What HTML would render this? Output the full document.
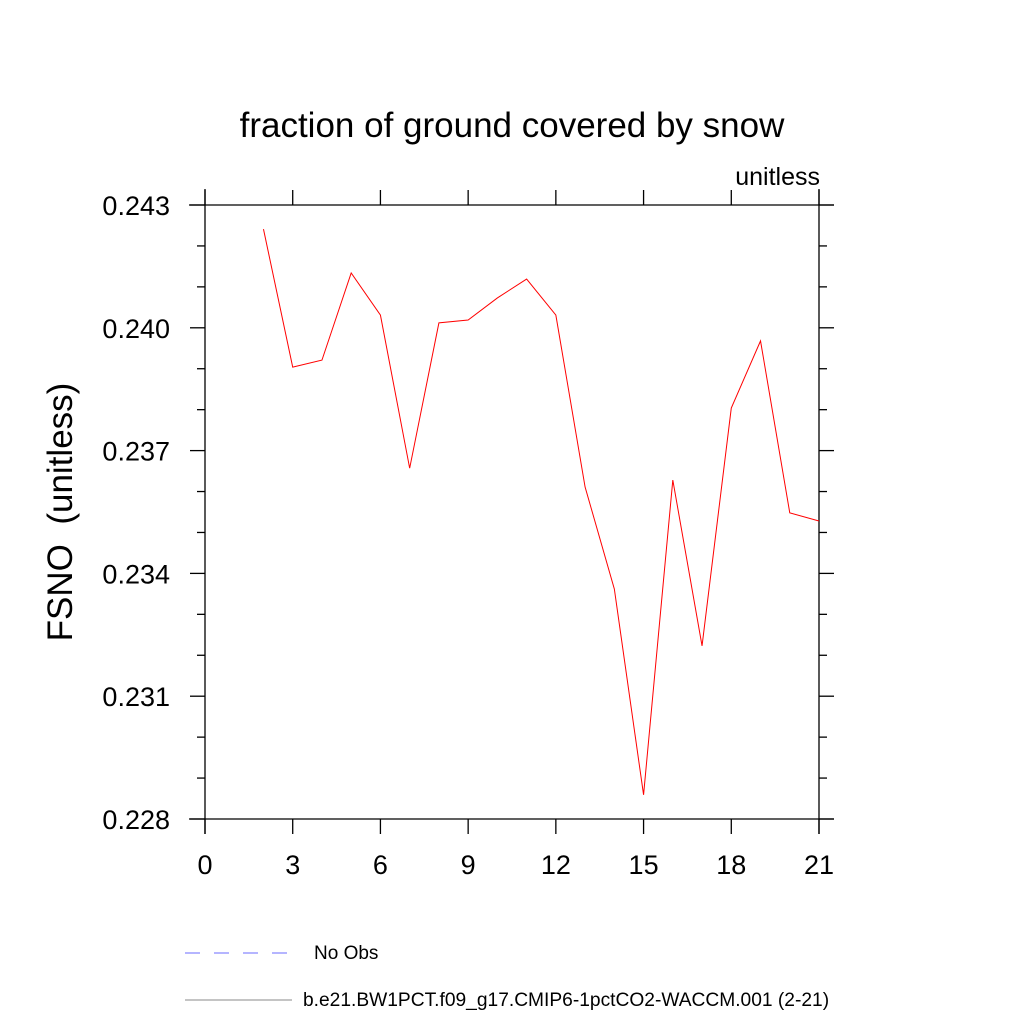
<!DOCTYPE html>
<html><head><meta charset="utf-8"><style>body{margin:0;background:#fff}svg text{font-family:"Liberation Sans",sans-serif}</style></head>
<body>
<svg id="chart" width="1024" height="1024" xmlns="http://www.w3.org/2000/svg">
<text x="512" y="137" font-size="35" text-anchor="middle">fraction of ground covered by snow</text>
<text x="820" y="185" font-size="25" text-anchor="end">unitless</text>
<text transform="translate(72,512) rotate(-90)" font-size="35" text-anchor="middle" style="white-space:pre">FSNO  (unitless)</text>
<g id="axes" stroke="#000" stroke-width="1.3"></g>
<g id="labels" font-size="27"></g>
<g id="series"></g>
<g>
<line x1="185" y1="953" x2="292" y2="953" stroke="#6b6bff" stroke-dasharray="15,14"/>
<text x="314" y="959" font-size="19">No Obs</text>
<line x1="185" y1="1000" x2="292" y2="1000" stroke="#888"/>
<text x="303" y="1006" font-size="19.2">b.e21.BW1PCT.f09_g17.CMIP6-1pctCO2-WACCM.001 (2-21)</text>
</g>
</svg>
<script>
const years=[2,3,4,5,6,7,8,9,10,11,12,13,14,15,16,17,18,19,20,21];
const fsno=[0.24241,0.23904,0.23921,0.24134,0.24031,0.23657,0.24012,0.24019,0.24073,0.24119,0.24031,0.23611,0.23362,0.22859,0.23628,0.23223,0.23804,0.23968,0.23548,0.23528];
const xTicks=[0,3,6,9,12,15,18,21];
const yTicks=["0.228","0.231","0.234","0.237","0.240","0.243"];
const X0=205,X1=819,Y0=819,Y1=205,xmin=0,xmax=21,ymin=0.228,ymax=0.243;
const sx=v=>X0+(v-xmin)/(xmax-xmin)*(X1-X0);
const sy=v=>Y0-(v-ymin)/(ymax-ymin)*(Y0-Y1);
const NS="http://www.w3.org/2000/svg";
const ax=document.getElementById('axes'),lb=document.getElementById('labels'),se=document.getElementById('series');
function ln(p,x1,y1,x2,y2,name){const l=document.createElementNS(NS,'line');l.setAttribute('x1',x1);l.setAttribute('y1',y1);l.setAttribute('x2',x2);l.setAttribute('y2',y2);


p.appendChild(l);return l;}
ln(ax,189,Y1,834,Y1,'frame-top');ln(ax,189,Y0,834,Y0,'frame-bottom');ln(ax,X0,189,X0,834,'frame-left');ln(ax,X1,189,X1,834,'frame-right');
xTicks.forEach(t=>{const x=sx(t);ln(ax,x,Y1-15,x,Y1,'x-tick-top');ln(ax,x,Y0,x,Y0+15,'x-tick-bottom');
const tx=document.createElementNS(NS,'text');tx.setAttribute('x',x);tx.setAttribute('y',Y0+55);tx.setAttribute('text-anchor','middle');tx.textContent=t;


lb.appendChild(tx);});
yTicks.forEach(t=>{const y=sy(parseFloat(t));ln(ax,X0-15,y,X0,y,'y-tick-left');ln(ax,X1,y,X1+15,y,'y-tick-right');
const tx=document.createElementNS(NS,'text');tx.setAttribute('x',170);tx.setAttribute('y',y+10);tx.setAttribute('text-anchor','end');tx.textContent=t;


lb.appendChild(tx);});
for(let v=ymin+0.001;v<ymax-0.0005;v+=0.001){const y=sy(v);if(Math.abs(((v-ymin)/0.003)-Math.round((v-ymin)/0.003))<0.01)continue;ln(ax,X0-8,y,X0,y,'y-minor-tick');ln(ax,X1,y,X1+8,y,'y-minor-tick');}
const pl=document.createElementNS(NS,'polyline');
pl.setAttribute('points',years.map((t,i)=>sx(t)+','+sy(fsno[i])).join(' '));
pl.setAttribute('fill','none');pl.setAttribute('stroke','#ff0000');pl.setAttribute('stroke-width','1');


se.appendChild(pl);
</script>
</body></html>
